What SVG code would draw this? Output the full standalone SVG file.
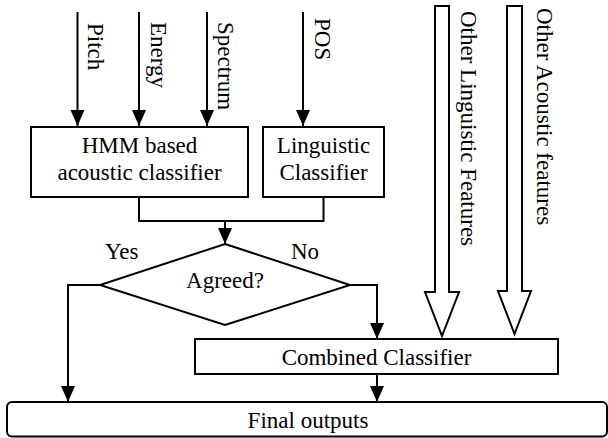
<svg xmlns="http://www.w3.org/2000/svg" width="608" height="438" viewBox="0 0 608 438" font-family="'Liberation Serif', 'Times New Roman', 'DejaVu Serif', serif" font-size="23">
<style>
text{font-family:'Liberation Serif','Times New Roman','DejaVu Serif',serif;font-size:23px;fill:#000}
.c{text-anchor:middle}
.box{fill:#fff;stroke:#000;stroke-width:2}
.ln{fill:none;stroke:#000;stroke-width:2}
.hollow{fill:#fff;stroke:#000;stroke-width:2;stroke-linejoin:miter}
</style>
<defs>
<marker id="ah" markerUnits="userSpaceOnUse" markerWidth="16" markerHeight="18" refX="16" refY="7" orient="auto" viewBox="0 0 16 14">
<path d="M0,0 L16,7 L0,14 z" fill="#000"/>
</marker>
</defs>
<rect width="608" height="438" fill="#fff"/>
<g id="connectors">
<line class="ln" x1="77.5" y1="12" x2="77.5" y2="126" marker-end="url(#ah)"/>
<line class="ln" x1="139" y1="12" x2="139" y2="126" marker-end="url(#ah)"/>
<line class="ln" x1="207" y1="12" x2="207" y2="126" marker-end="url(#ah)"/>
<line class="ln" x1="303" y1="12" x2="303" y2="126" marker-end="url(#ah)"/>
<polyline class="ln" points="139,197 139,221 323.5,221 323.5,197"/>
<line class="ln" x1="225" y1="221" x2="225" y2="244" marker-end="url(#ah)"/>
<polyline class="ln" points="100,285 68,285 68,402" marker-end="url(#ah)"/>
<polyline class="ln" points="350,285 377,285 377,339" marker-end="url(#ah)"/>
<line class="ln" x1="377" y1="374" x2="377" y2="402" marker-end="url(#ah)"/>
<polygon class="hollow" points="435,6 449,6 449,292 459,292 442,336 425,292 435,292"/>
<polygon class="hollow" points="507,6 522,6 522,291 531,291 514.5,334 498,291 507,291"/>
</g>
<g id="labels">
<text transform="translate(88,23) rotate(90)">Pitch</text>
<text transform="translate(151,22) rotate(90)">Energy</text>
<text transform="translate(218,22) rotate(90)">Spectrum</text>
<text transform="translate(315,18) rotate(90)">POS</text>
<text transform="translate(461,11) rotate(90)">Other Linguistic Features</text>
<text transform="translate(537,8) rotate(90)">Other Acoustic features</text>
<text x="105" y="259">Yes</text>
<text x="291" y="259">No</text>
</g>
<g id="hmm">
<rect class="box" x="31" y="127" width="217" height="70"/>
<text class="c" x="139.5" y="153">HMM based</text>
<text class="c" x="139.5" y="180">acoustic classifier</text>
</g>
<g id="linguistic">
<rect class="box" x="263" y="127" width="121" height="70"/>
<text class="c" x="323.5" y="153">Linguistic</text>
<text class="c" x="323.5" y="180">Classifier</text>
</g>
<g id="agreed">
<polygon class="box" points="225,244 350,285 225,325 100,285"/>
<text class="c" x="225" y="288">Agreed?</text>
</g>
<g id="combined">
<rect class="box" x="195" y="339" width="363" height="35"/>
<text class="c" x="376.5" y="365">Combined Classifier</text>
</g>
<g id="final">
<rect class="box" x="7" y="402" width="600" height="34.5" rx="5"/>
<text class="c" x="308" y="428">Final outputs</text>
</g>
</svg>
